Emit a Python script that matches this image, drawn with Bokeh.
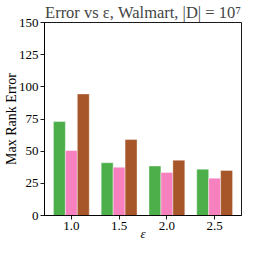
from bokeh.plotting import figure
from bokeh.models import FixedTicker, Range1d
from bokeh.embed import file_html
from bokeh.resources import INLINE

epsilons = [1.0, 1.5, 2.0, 2.5]
eps_labels = ["1.0", "1.5", "2.0", "2.5"]
series_green = [73, 41, 38.5, 36]
series_pink = [50.5, 37.5, 33.5, 29]
series_brown = [94.5, 59, 43, 35]
colors = ["#4daf4a", "#f781bf", "#a65628"]
y_ticks = [0, 25, 50, 75, 100, 125, 150]
title_text = "Error vs \u03b5, Walmart, |D| = 10\u2077"

bar_w = 0.125
FONT = "Liberation Serif"

p = figure(width=243, height=243, output_backend="svg", toolbar_location=None,
           x_range=Range1d(0.719, 2.781), y_range=Range1d(0, 150),
           title=title_text,
           min_border_left=30, min_border_right=2, min_border_bottom=20, min_border_top=0)

for series, offset, c in zip([series_green, series_pink, series_brown], [-bar_w, 0.0, bar_w], colors):
    xs = [e + offset for e in epsilons]
    p.vbar(x=xs, top=series, bottom=0, width=bar_w, fill_color=c,
           line_color="white", line_alpha=0.5, line_width=0.8)

p.title.text_font = FONT
p.title.text_font_size = "16.5px"
p.title.text_font_style = "normal"
p.title.align = "center"
p.title.standoff = 1
p.title.text_line_height = 1.0

p.xgrid.visible = False
p.ygrid.visible = False
p.outline_line_color = "black"
p.outline_line_width = 0.9
p.outline_line_alpha = 1.0

p.xaxis.ticker = FixedTicker(ticks=epsilons)
p.xaxis.major_label_overrides = {e: l for e, l in zip(epsilons, eps_labels)}
p.yaxis.ticker = FixedTicker(ticks=y_ticks)
p.xaxis.axis_label = "\u03b5"
p.yaxis.axis_label = "Max Rank Error"

for ax in [p.xaxis[0], p.yaxis[0]]:
    ax.axis_line_color = "black"
    ax.axis_line_width = 0.9
    ax.major_tick_line_color = "black"
    ax.major_tick_line_width = 0.9
    ax.major_tick_out = 4
    ax.major_tick_in = 0
    ax.minor_tick_line_color = None
    ax.major_label_text_font = FONT
    ax.major_label_text_font_size = "13px"
    ax.major_label_text_color = "black"
    ax.axis_label_text_font = FONT
    ax.axis_label_text_font_size = "14px"
    ax.axis_label_text_font_style = "normal"
    ax.axis_label_text_color = "black"

p.yaxis.major_label_standoff = 2
p.xaxis.major_label_standoff = 2
p.yaxis.axis_label_standoff = -3
p.xaxis.axis_label_standoff = -7
p.xaxis.axis_label_text_font_style = "italic"
p.xaxis.axis_label_text_font_size = "13px"

open("out.html", "w").write(file_html(p, INLINE))
